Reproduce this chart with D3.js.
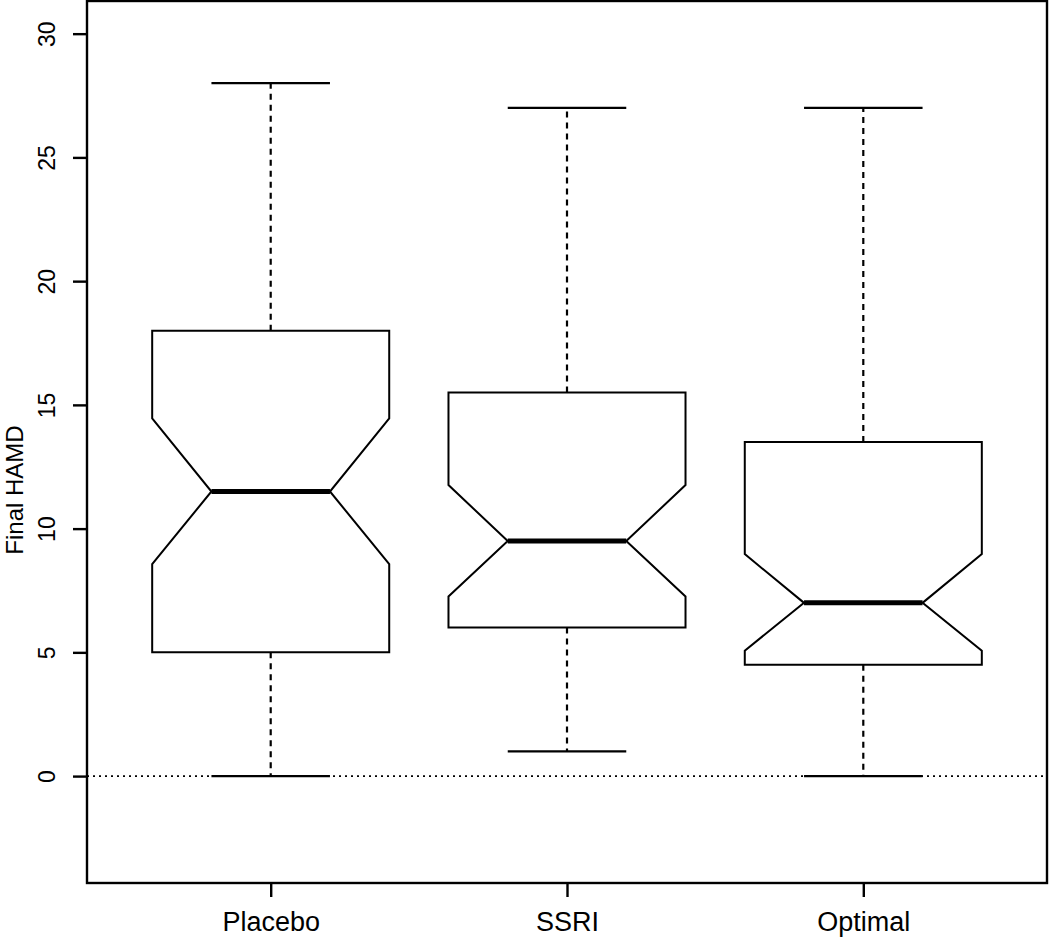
<!DOCTYPE html>
<html>
<head>
<meta charset="utf-8">
<script src="https://d3js.org/d3.v7.min.js"></script>
<style>
  body { margin: 0; background: #fff; }
  text { font-family: "Liberation Sans", Arial, sans-serif; fill: #000; }
</style>
</head>
<body>
<svg width="1050" height="937"></svg>
<script>
// boxplot summary per group
const groups = ["Placebo", "SSRI", "Optimal"];
const whiskerLow = [0, 1, 0];
const q1 = [5, 6, 4.5];
const medians = [11.5, 9.5, 7];
const q3 = [18, 15.5, 13.5];
const whiskerHigh = [28, 27, 27];
const notchLow = [8.57, 7.26, 5.07];
const notchHigh = [14.45, 11.76, 8.97];
const yTicks = [0, 5, 10, 15, 20, 25, 30];

const svg = d3.select("svg");
const plotL = 87, plotR = 1047, plotT = 1, plotB = 883;

const x = d3.scaleLinear().domain([0.38, 3.62]).range([plotL, plotR]);
const y = d3.scaleLinear().domain([-4.32, 31.32]).range([plotB, plotT]);

const boxHalf = x(1.4) - x(1);   // boxwex 0.8
const boxes = groups.map((g, i) => ({
  name: g, pos: i + 1,
  lo: whiskerLow[i], q1: q1[i], med: medians[i], q3: q3[i], hi: whiskerHigh[i],
  nlo: notchLow[i], nhi: notchHigh[i]
}));

// reference line at 0
svg.append("line")
  .attr("x1", plotL).attr("x2", plotR)
  .attr("y1", y(0)).attr("y2", y(0))
  .attr("stroke", "#000").attr("stroke-width", 1.8)
  .attr("stroke-dasharray", "2,4");

const b = svg.append("g").selectAll("g").data(boxes).join("g");

// dashed whiskers
b.append("line")
  .attr("x1", d => x(d.pos)).attr("x2", d => x(d.pos))
  .attr("y1", d => y(d.q3)).attr("y2", d => y(d.hi))
  .attr("stroke", "#000").attr("stroke-width", 2.2).attr("stroke-dasharray", "6,5");
b.append("line")
  .attr("x1", d => x(d.pos)).attr("x2", d => x(d.pos))
  .attr("y1", d => y(d.q1)).attr("y2", d => y(d.lo))
  .attr("stroke", "#000").attr("stroke-width", 2.2).attr("stroke-dasharray", "6,5");

// staples
["lo", "hi"].forEach(k => {
  b.append("line")
    .attr("x1", d => x(d.pos) - boxHalf / 2).attr("x2", d => x(d.pos) + boxHalf / 2)
    .attr("y1", d => y(d[k])).attr("y2", d => y(d[k]))
    .attr("stroke", "#000").attr("stroke-width", 2.4);
});

// notched box
b.append("path")
  .attr("fill", "#fff")
  .attr("stroke", "#000").attr("stroke-width", 2)
  .attr("d", d => {
    const c = x(d.pos), w = boxHalf, n = boxHalf / 2;
    return d3.line()([
      [c - w, y(d.q1)], [c - w, y(d.nlo)], [c - n, y(d.med)], [c - w, y(d.nhi)],
      [c - w, y(d.q3)], [c + w, y(d.q3)], [c + w, y(d.nhi)], [c + n, y(d.med)],
      [c + w, y(d.nlo)], [c + w, y(d.q1)]
    ]) + "Z";
  });

// median
b.append("line")
  .attr("x1", d => x(d.pos) - boxHalf / 2).attr("x2", d => x(d.pos) + boxHalf / 2)
  .attr("y1", d => y(d.med)).attr("y2", d => y(d.med))
  .attr("stroke", "#000").attr("stroke-width", 5);

// frame
svg.append("rect")
  .attr("x", plotL).attr("y", plotT)
  .attr("width", plotR - plotL).attr("height", plotB - plotT)
  .attr("fill", "none").attr("stroke", "#000").attr("stroke-width", 2.4);

// y axis
const yAxis = svg.append("g")
  .attr("transform", `translate(${plotL},0)`)
  .call(d3.axisLeft(y).tickValues(yTicks).tickSize(14).tickFormat(d3.format("d")));
yAxis.select(".domain").remove();
yAxis.selectAll(".tick line").attr("stroke", "#000").attr("stroke-width", 2.4);
yAxis.selectAll(".tick text")
  .attr("x", null)
  .attr("text-anchor", "middle")
  .attr("transform", "translate(-40,0) rotate(-90)")
  .attr("y", 0).attr("dy", "0.35em")
  .style("font-size", "23px");

// x axis
const xAxis = svg.append("g")
  .attr("transform", `translate(0,${plotB})`)
  .call(d3.axisBottom(x).tickValues([1, 2, 3]).tickSize(14).tickFormat((d, i) => groups[i]));
xAxis.select(".domain").remove();
xAxis.selectAll(".tick line").attr("stroke", "#000").attr("stroke-width", 2.4);
xAxis.selectAll(".tick text")
  .attr("y", 48).attr("dy", null)
  .style("font-size", "27px");

// y title
svg.append("text")
  .attr("transform", `translate(23,${(plotT + plotB) / 2 + 48}) rotate(-90)`)
  .attr("text-anchor", "middle")
  .style("font-size", "24px")
  .text("Final HAMD");
</script>
</body>
</html>
